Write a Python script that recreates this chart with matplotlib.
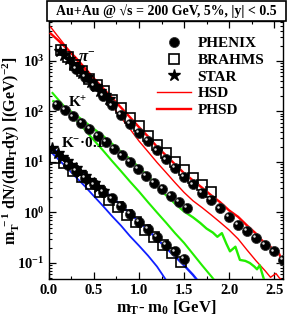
import math
import matplotlib
matplotlib.use("Agg")
import matplotlib.pyplot as plt
import matplotlib.transforms as mtransforms
from matplotlib.patches import Rectangle
from matplotlib.ticker import LogLocator, FixedLocator, FuncFormatter, NullFormatter
from matplotlib.lines import Line2D

plt.rcParams['font.family'] = ['Liberation Serif', 'DejaVu Serif']
plt.rcParams['font.weight'] = 'bold'
plt.rcParams['mathtext.fontset'] = 'custom'
plt.rcParams['mathtext.rm'] = 'Liberation Serif:bold'
plt.rcParams['mathtext.bf'] = 'Liberation Serif:bold'
plt.rcParams['mathtext.it'] = 'Liberation Serif:italic:bold'

# ---------------- data ----------------
# pi- PHENIX
phx_pi_x = [0.3, 0.4, 0.5, 0.6, 0.7, 0.8, 0.9, 1.0, 1.1, 1.2, 1.3, 1.4, 1.5, 1.6, 1.7, 1.8,
            1.9, 2.0, 2.1, 2.2, 2.3, 2.4, 2.5, 2.6]
phx_pi_y = [700, 480, 320, 205, 132, 85, 57, 38, 26, 17, 11.3, 7.6, 5.1, 3.6, 2.45, 1.75,
            1.2, 0.83, 0.57, 0.43, 0.31, 0.23, 0.17, 0.115]
# pi- BRAHMS
brh_pi_x = [0.13, 0.21, 0.29, 0.37, 0.45, 0.53, 0.61, 0.7, 0.8, 0.9, 1.0, 1.1, 1.2, 1.3,
            1.4, 1.5, 1.6, 1.7, 1.8]
brh_pi_y = [1650, 1200, 830, 620, 440, 340, 250, 170, 115, 76, 52, 33, 22, 15,
            10, 6.8, 4.8, 3.5, 2.5]
# pi- STAR
star_pi_x = [0.12, 0.17, 0.22, 0.27, 0.32, 0.37, 0.42, 0.47, 0.52, 0.57, 0.62, 0.67]
star_pi_y = [1550, 1300, 1080, 880, 720, 590, 480, 390, 320, 260, 215, 175]

# K+ PHENIX
phx_kp_x = [0.09, 0.18, 0.27, 0.36, 0.45, 0.54, 0.63, 0.72, 0.81, 0.9, 0.99, 1.08, 1.17,
            1.26, 1.35, 1.44, 1.53]
phx_kp_y = [134, 107, 80, 60, 45, 33, 25, 18.5, 13.5, 10, 7.3, 5.3, 3.9,
            2.9, 2.1, 1.6, 1.25]

# K- x 0.1 PHENIX
phx_km_x = [0.21, 0.3, 0.4, 0.5, 0.6, 0.7, 0.8, 0.9, 1.0, 1.1, 1.2, 1.3, 1.4, 1.5]
phx_km_y = [8.7, 6.6, 4.9, 3.6, 2.6, 1.9, 1.35, 0.95, 0.66, 0.47, 0.33, 0.23, 0.17, 0.12]
# K- x 0.1 BRAHMS
brh_km_x = [0.07, 0.17, 0.27, 0.37, 0.47, 0.57, 0.67, 0.77, 0.87, 0.97, 1.07, 1.17, 1.27,
            1.37, 1.47]
brh_km_y = [12, 9.5, 6.5, 5.0, 3.6, 2.6, 1.8, 1.3, 0.9, 0.65, 0.46, 0.33, 0.23,
            0.16, 0.105]
# K- x 0.1 STAR
star_km_x = [0.04, 0.1, 0.15, 0.2, 0.25, 0.3, 0.35, 0.4, 0.45, 0.5, 0.55, 0.6]
star_km_y = [19, 15, 12.5, 10.5, 8.8, 7.5, 6.3, 5.3, 4.5, 3.8, 3.2, 2.7]

# HSD / PHSD model curves
hsd_pi_x = [0.02, 0.1, 0.2, 0.3, 0.4, 0.5, 0.6, 0.7, 0.8, 0.9, 1.0, 1.1, 1.2, 1.3, 1.4,
            1.5, 1.6, 1.7, 1.8, 1.9, 2.0, 2.1, 2.2, 2.3, 2.4, 2.46, 2.52, 2.56, 2.6]
hsd_pi_y = [4700, 3080, 1830, 1080, 640, 370, 220, 130, 76, 45, 26, 16, 9.8, 6.2, 3.9,
            2.5, 1.7, 1.25, 0.9, 0.64, 0.45, 0.3, 0.18, 0.11, 0.07, 0.052, 0.062, 0.05, 0.045]
phsd_pi_x = [0.02, 0.1, 0.2, 0.3, 0.4, 0.5, 0.6, 0.7, 0.8, 0.9, 1.0, 1.1, 1.2, 1.3, 1.4,
             1.5, 1.6, 1.7, 1.8, 1.9, 2.0, 2.1, 2.2, 2.3, 2.35, 2.4, 2.45, 2.5, 2.55, 2.58, 2.6]
phsd_pi_y = [3500, 2600, 1750, 1150, 720, 450, 290, 185, 120, 77, 49, 32, 20, 13.5, 9,
             6.0, 4.3, 3.1, 2.2, 1.6, 1.1, 0.82, 0.55, 0.38, 0.3, 0.24, 0.22, 0.17, 0.16, 0.12, 0.1]

hsd_kp_x = [0.04, 0.1, 0.2, 0.3, 0.4, 0.5, 0.6, 0.7, 0.8, 0.9, 1.0, 1.1, 1.2, 1.3, 1.4,
            1.5, 1.6, 1.7, 1.8, 1.84]
hsd_kp_y = [233, 175, 110, 69, 43, 27, 17, 10.5, 6.6, 4.1, 2.6, 1.6, 1.0, 0.63, 0.39,
            0.25, 0.15, 0.09, 0.055, 0.045]
phsd_kp_x = [0.05, 0.1, 0.2, 0.3, 0.4, 0.5, 0.6, 0.7, 0.8, 0.9, 1.0, 1.1, 1.2, 1.3, 1.4,
             1.5, 1.6, 1.68, 1.75, 1.82, 1.87, 1.92, 1.97, 2.01, 2.07, 2.12, 2.18, 2.23,
             2.28, 2.31, 2.34, 2.38, 2.4]
phsd_kp_y = [160, 150, 115, 85, 62, 45, 33, 23, 16, 11.5, 7.8, 5.2, 3.4, 2.2, 1.5,
             1.05, 0.8, 0.62, 0.48, 0.40, 0.33, 0.39, 0.24, 0.17, 0.21, 0.115, 0.11, 0.1,
             0.085, 0.075, 0.09, 0.052, 0.04]

hsd_km_x = [0.02, 0.1, 0.2, 0.3, 0.4, 0.5, 0.6, 0.7, 0.8, 0.9, 1.0, 1.1, 1.2, 1.3]
hsd_km_y = [16, 11.5, 7.7, 5.0, 3.3, 2.1, 1.35, 0.85, 0.55, 0.34, 0.22, 0.14, 0.085, 0.046]
phsd_km_x = [0.03, 0.1, 0.2, 0.3, 0.4, 0.5, 0.6, 0.7, 0.8, 0.9, 1.0, 1.1, 1.2, 1.3, 1.4,
             1.5, 1.6, 1.65]
phsd_km_y = [20, 15, 10.5, 7.3, 5.3, 3.9, 2.8, 2.0, 1.4, 0.95, 0.66, 0.45, 0.3, 0.2, 0.135,
             0.09, 0.058, 0.045]

x_ticks = [0.0, 0.5, 1.0, 1.5, 2.0, 2.5]
x_ticklabels = ['0.0', '0.5', '1.0', '1.5', '2.0', '2.5']
legend_labels = ['PHENIX', 'BRAHMS', 'STAR', 'HSD', 'PHSD']
title_text = 'Au+Au @ \u221as = 200 GeV, 5%, |y| < 0.5'

# ---------------- figure ----------------
fig = plt.figure(figsize=(2.91, 3.23), dpi=100)
ax = fig.add_axes([0.168, 0.136, 0.805, 0.799])
ax.set_yscale('log')
ax.set_xlim(0, 2.6)
ax.set_ylim(0.048, 6200)

lw_hsd = 1.0
lw_phsd = 1.7
green = '#22ee00'
blue = '#1020ff'
ax.plot(hsd_pi_x, hsd_pi_y, color='red', lw=lw_hsd, zorder=3)
ax.plot(phsd_pi_x, phsd_pi_y, color='red', lw=lw_phsd, zorder=3)
ax.plot(hsd_kp_x, hsd_kp_y, color=green, lw=1.5, zorder=3)
ax.plot(phsd_kp_x, phsd_kp_y, color=green, lw=lw_phsd, zorder=3)
ax.plot(hsd_km_x, hsd_km_y, color=blue, lw=1.3, zorder=3)
ax.plot(phsd_km_x, phsd_km_y, color=blue, lw=lw_phsd, zorder=3)

msz = 7.2
circ_kw = dict(ls='none', marker='o', ms=msz, mfc='black', mec='#333333', mew=0.6, zorder=4)
sq_kw = dict(ls='none', marker='s', ms=msz - 0.6, mfc='none', mec='black', mew=1.2, zorder=4)
star_kw = dict(ls='none', marker='*', ms=msz + 1.5, mfc='black', mec='black', zorder=4)

hl = mtransforms.offset_copy(ax.transData, fig=fig, x=-1.3, y=1.3, units='points')
for xs, ys in [(phx_pi_x, phx_pi_y), (phx_kp_x, phx_kp_y), (phx_km_x, phx_km_y)]:
    ax.plot(xs, ys, **circ_kw)
    ax.plot(xs, ys, ls='none', marker='o', ms=1.8, mfc='#dddddd', mec='none', zorder=5,
            transform=hl)
for xs, ys in [(brh_pi_x, brh_pi_y), (brh_km_x, brh_km_y)]:
    ax.plot(xs, ys, **sq_kw)
for xs, ys in [(star_pi_x, star_pi_y), (star_km_x, star_km_y)]:
    ax.plot(xs, ys, **star_kw)

# particle labels
ax.text(0.42, 1150, r'$\pi^{-}$', fontsize=12, ha='center', va='center', zorder=6)
ax.text(0.32, 150, r'$\mathrm{K}^{+}$', fontsize=11, ha='center', va='center', zorder=6)
ax.text(0.13, 24, r'$\mathrm{K}^{-}$' + '\u00b70.1', fontsize=11, ha='left', va='center',
        zorder=6)

# axes formatting
ax.xaxis.set_major_locator(FixedLocator(x_ticks))
ax.set_xticklabels(x_ticklabels)
ax.xaxis.set_minor_locator(FixedLocator([0.25, 0.75, 1.25, 1.75, 2.25]))
ax.yaxis.set_major_locator(LogLocator(base=10, numticks=20))
ax.yaxis.set_minor_locator(LogLocator(base=10, subs=range(2, 10), numticks=20))
ax.yaxis.set_minor_formatter(NullFormatter())
ax.yaxis.set_major_formatter(FuncFormatter(lambda v, p: r'$\mathbf{10^{%d}}$' % round(math.log10(v))))
ax.tick_params(which='both', direction='in', top=True, right=True, labelsize=10.5)
ax.tick_params(which='major', length=5, width=0.9)
ax.tick_params(which='minor', length=2.5, width=0.8)
for t in ax.get_xticklabels() + ax.get_yticklabels():
    t.set_fontweight('bold')
for s in ax.spines.values():
    s.set_linewidth(1.0)

ax.set_xlabel(r'$\mathbf{m_T}$' + '- ' + r'$\mathbf{m_0}$' + ' [GeV]', fontsize=12,
              fontweight='bold', labelpad=1)
ax.set_ylabel(r'$\mathbf{m_T^{\ -1}\ dN/(dm_T dy)\ [(GeV)^{-2}]}$', fontsize=11.5)
ax.yaxis.set_label_coords(-0.115, 0.5)

# legend
handles = [
    Line2D([], [], **circ_kw),
    Line2D([], [], **sq_kw),
    Line2D([], [], **star_kw),
    Line2D([], [], color='red', lw=lw_hsd),
    Line2D([], [], color='red', lw=lw_phsd),
]
leg = ax.legend(handles, legend_labels, loc='upper left', bbox_to_anchor=(0.462, 0.94),
                frameon=False, fontsize=11, handlelength=2.25, handletextpad=0.4,
                labelspacing=0.2, borderaxespad=0.0, borderpad=0.0)
for t in leg.get_texts():
    t.set_fontweight('bold')

# title box
fig.patches.append(Rectangle((47 / 291, 1 - 21 / 323), 239 / 291, 19.5 / 323,
                             transform=fig.transFigure, fc='white', ec='black', lw=1.2,
                             zorder=9))
fig.text(0.57, 1 - 11.5 / 323, title_text, fontsize=10, fontweight='bold', ha='center',
         va='center', zorder=10)

fig.savefig('out.png', dpi=100)
